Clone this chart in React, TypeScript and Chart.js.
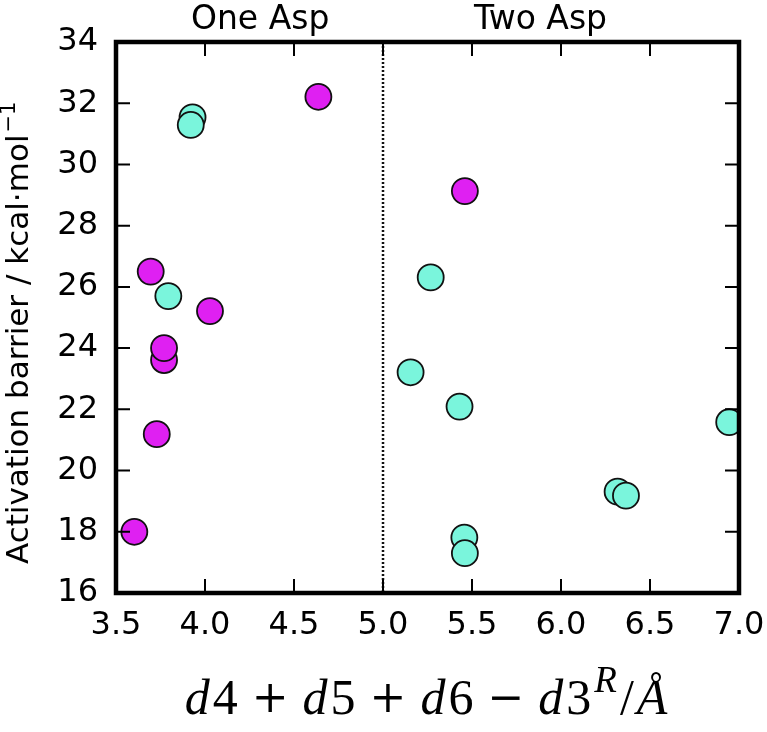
import React, { useEffect, useRef } from 'react';
import { Chart, registerables } from 'chart.js';

Chart.register(...registerables);

// ---- data ----
const X_TICKS = [3.5, 4.0, 4.5, 5.0, 5.5, 6.0, 6.5, 7.0];
const Y_TICKS = [16, 18, 20, 22, 24, 26, 28, 30, 32, 34];

const MAGENTA_X = [3.603, 3.729, 3.77, 3.77, 3.695, 4.028, 4.637, 5.46];
const MAGENTA_Y = [18.0, 21.19, 23.61, 24.0, 26.5, 25.21, 32.21, 29.13];

const CYAN_X = [3.93, 3.92, 3.794, 5.268, 5.155, 5.43, 6.945, 6.318, 6.365, 5.457, 5.46];
const CYAN_Y = [31.54, 31.29, 25.7, 26.31, 23.21, 22.09, 21.58, 19.31, 19.18, 17.81, 17.3];

const DIVIDER_X = 5.0;
const GROUP_LABELS = ['One Asp', 'Two Asp'];
const GROUP_LABEL_X = [4.31, 5.885];

const Y_TITLE = 'Activation barrier / kcal·mol';
const Y_TITLE_SUP = '−1';

// math-style x title pieces
const X_TITLE_PIECES = [
  { t: 'd', it: true }, { t: '4' }, { t: '+', op: true },
  { t: 'd', it: true }, { t: '5' }, { t: '+', op: true },
  { t: 'd', it: true }, { t: '6' }, { t: '−', op: true },
  { t: 'd', it: true }, { t: '3' }, { t: 'R', it: true, sup: true },
  { t: '/', pad: 3 }, { t: 'Å', it: true },
];

const MAGENTA = '#df20f2';
const CYAN = '#7af5dc';

const SANS = '"DejaVu Sans", sans-serif';
const SERIF = '"Liberation Serif", serif';
const OPSERIF = '"DejaVu Serif", serif';

const decorPlugin = {
  id: 'decor',
  beforeDatasetsDraw(chart: any) {
    const { ctx, chartArea: a, scales } = chart;
    const x = Math.round(scales.x.getPixelForValue(DIVIDER_X));
    ctx.save();
    ctx.strokeStyle = '#111';
    ctx.lineWidth = 2.5;
    ctx.setLineDash([2, 2]);
    ctx.beginPath();
    ctx.moveTo(x, a.top);
    ctx.lineTo(x, a.bottom);
    ctx.stroke();
    ctx.restore();
  },
  afterDraw(chart: any) {
    const { ctx, chartArea: a, scales } = chart;
    ctx.save();
    // ticks inside on all sides
    const TL = 14;
    ctx.strokeStyle = '#000';
    ctx.lineWidth = 2;
    ctx.beginPath();
    X_TICKS.forEach((v) => {
      const px = scales.x.getPixelForValue(v);
      ctx.moveTo(px, a.bottom);
      ctx.lineTo(px, a.bottom - TL);
      ctx.moveTo(px, a.top);
      ctx.lineTo(px, a.top + TL);
    });
    Y_TICKS.forEach((v) => {
      const py = scales.y.getPixelForValue(v);
      ctx.moveTo(a.left, py);
      ctx.lineTo(a.left + TL, py);
      ctx.moveTo(a.right, py);
      ctx.lineTo(a.right - TL, py);
    });
    ctx.stroke();
    // frame
    ctx.lineWidth = 4.5;
    ctx.strokeRect(a.left, a.top, a.right - a.left, a.bottom - a.top);

    // group labels
    ctx.fillStyle = '#000';
    ctx.font = `33px ${SANS}`;
    ctx.textAlign = 'center';
    ctx.textBaseline = 'alphabetic';
    GROUP_LABELS.forEach((lab, i) => {
      ctx.fillText(lab, scales.x.getPixelForValue(GROUP_LABEL_X[i]), 29);
    });

    // y title (rotated)
    ctx.save();
    ctx.translate(28, 564);
    ctx.rotate(-Math.PI / 2);
    ctx.textAlign = 'left';
    ctx.font = `31px ${SANS}`;
    ctx.fillText(Y_TITLE, 0, 0);
    const w = ctx.measureText(Y_TITLE).width;
    ctx.font = `21px ${SANS}`;
    ctx.fillText(Y_TITLE_SUP, w + 2, -13);
    ctx.restore();

    // x title (math style)
    const FS = 50;
    const gap = 14;
    const fontFor = (p: any) =>
      p.op
        ? `44px ${OPSERIF}`
        : `${p.it ? 'italic ' : ''}${p.sup ? Math.round(FS * 0.74) : FS}px ${SERIF}`;
    const pre = (p: any) => (p.op ? gap : p.sup ? 3 : p.pad || 0);
    const post = (p: any) => (p.op ? gap : p.sup ? 0 : p.pad || 0) + (p.it && !p.op && !p.sup ? 3 : 0);
    let total = 0;
    const widths = X_TITLE_PIECES.map((p: any) => {
      ctx.font = fontFor(p);
      const wd = ctx.measureText(p.t).width + pre(p) + post(p);
      total += wd;
      return wd;
    });
    let cx = (a.left + a.right) / 2 - total / 2;
    const base = 714;
    ctx.textAlign = 'left';
    X_TITLE_PIECES.forEach((p: any, i) => {
      ctx.font = fontFor(p);
      const y = p.sup ? base - 22 : p.op ? base - 2 : base;
      ctx.fillText(p.t, cx + pre(p), y);
      cx += widths[i];
    });
    ctx.restore();
  },
};

export default function App() {
  const ref = useRef<HTMLCanvasElement | null>(null);
  useEffect(() => {
    if (!ref.current) return;
    const chart = new Chart(ref.current, {
      type: 'scatter',
      data: {
        datasets: [
          {
            label: 'magenta',
            data: MAGENTA_X.map((x, i) => ({ x, y: MAGENTA_Y[i] })),
            backgroundColor: MAGENTA,
            borderColor: '#111',
            borderWidth: 1.8,
            pointRadius: 13,
            pointHoverRadius: 13,
          },
          {
            label: 'cyan',
            data: CYAN_X.map((x, i) => ({ x, y: CYAN_Y[i] })),
            backgroundColor: CYAN,
            borderColor: '#111',
            borderWidth: 1.8,
            pointRadius: 13,
            pointHoverRadius: 13,
          },
        ],
      },
      options: {
        responsive: false,
        animation: false,
        layout: { padding: { top: 42, right: 28, left: 0, bottom: 0 } },
        plugins: { legend: { display: false }, tooltip: { enabled: false } },
        scales: {
          x: {
            type: 'linear',
            min: 3.5,
            max: 7.0,
            afterBuildTicks: (s: any) => {
              s.ticks = X_TICKS.map((v) => ({ value: v }));
            },
            afterFit: (s: any) => {
              s.height = 732 - 593;
              s.paddingLeft = 0;
              s.paddingRight = 0;
            },
            grid: { display: false, drawTicks: false, tickLength: 0 },
            border: { display: false },
            ticks: {
              color: '#000',
              padding: 13,
              font: { family: SANS, size: 32 },
              maxRotation: 0,
              callback: (v: any) => Number(v).toFixed(1),
            },
          },
          y: {
            type: 'linear',
            min: 16,
            max: 34,
            afterBuildTicks: (s: any) => {
              s.ticks = Y_TICKS.map((v) => ({ value: v }));
            },
            afterFit: (s: any) => {
              s.width = 116;
              s.paddingTop = 0;
              s.paddingBottom = 0;
            },
            grid: { display: false, drawTicks: false, tickLength: 0 },
            border: { display: false },
            ticks: {
              color: '#000',
              padding: 18,
              font: { family: SANS, size: 32 },
              callback: (v: any) => String(v),
            },
          },
        },
      },
      plugins: [decorPlugin],
    });
    return () => chart.destroy();
  }, []);
  return (
    <div style={{ position: 'fixed', left: 0, top: 0, width: 767, height: 732, background: '#fff' }}>
      <canvas ref={ref} width={767} height={732} />
    </div>
  );
}
